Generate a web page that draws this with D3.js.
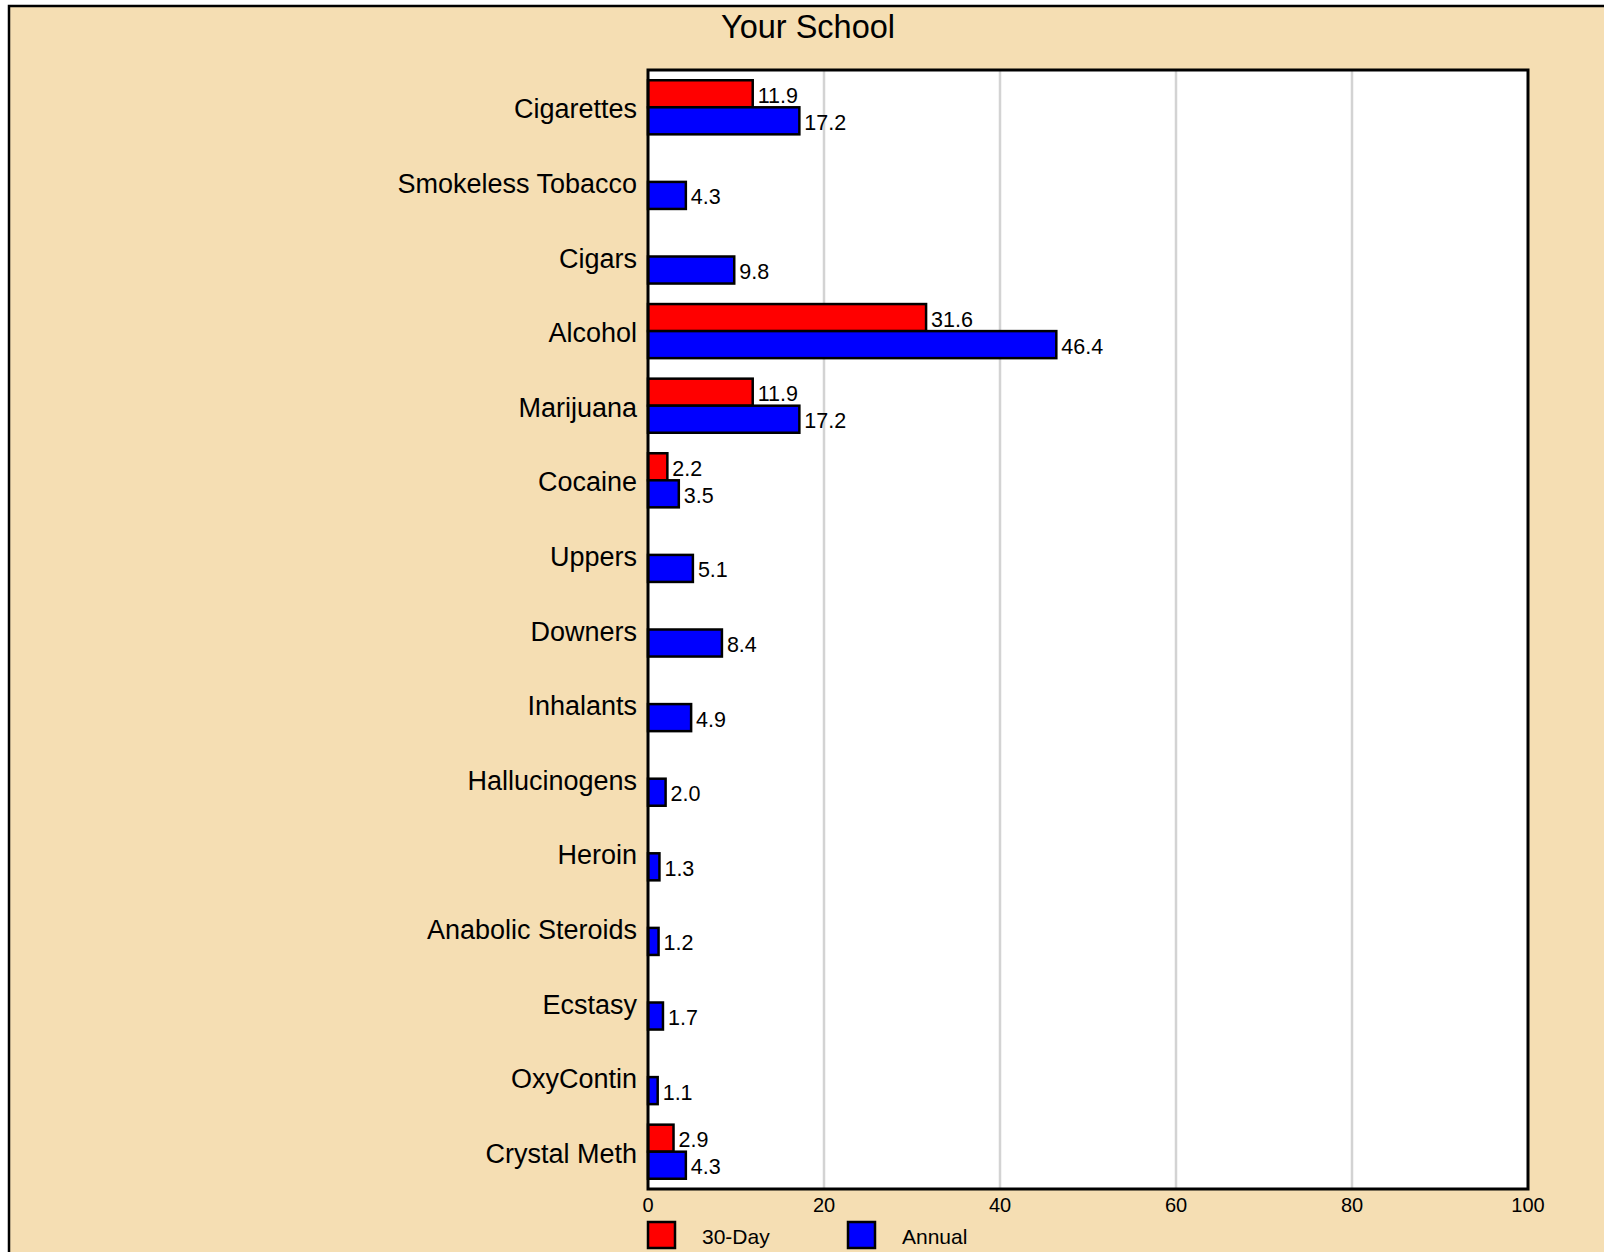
<!DOCTYPE html>
<html>
<head>
<meta charset="utf-8">
<script src="https://cdn.jsdelivr.net/npm/d3@7"></script>
<style>
html,body{margin:0;padding:0;background:#fff;overflow:hidden;}
svg{display:block;}
text{font-family:Arial,Helvetica,sans-serif;fill:#000;}
</style>
</head>
<body>
<svg id="chart" width="1604" height="1252"></svg>
<script>
const title = "Your School";
const categories = ["Cigarettes","Smokeless Tobacco","Cigars","Alcohol","Marijuana","Cocaine","Uppers","Downers","Inhalants","Hallucinogens","Heroin","Anabolic Steroids","Ecstasy","OxyContin","Crystal Meth"];
const seriesNames = ["30-Day","Annual"];
const seriesColors = ["#ff0000","#0000ff"];
const thirtyDay = [11.9,null,null,31.6,11.9,2.2,null,null,null,null,null,null,null,null,2.9];
const annual = [17.2,4.3,9.8,46.4,17.2,3.5,5.1,8.4,4.9,2.0,1.3,1.2,1.7,1.1,4.3];
const xTicks = [0,20,40,60,80,100];

const svg = d3.select("#chart");
const plot = {left:648, right:1528, top:70, bottom:1189};

// outer background
svg.append("rect").attr("x",9).attr("y",6).attr("width",1700).attr("height",1400)
  .attr("fill","#F5DEB3").attr("stroke","#000").attr("stroke-width",2.5);

svg.append("text").attr("x",808).attr("y",38).attr("text-anchor","middle")
  .style("font-size","32.5px").text(title);

const x = d3.scaleLinear().domain([0,100]).range([plot.left,plot.right]);
const y = d3.scaleBand().domain(categories).range([plot.top,plot.bottom])
  .paddingInner(0.275).paddingOuter(0.1375);
const ySub = d3.scaleBand().domain(seriesNames).range([0,y.bandwidth()]);

// plot area
svg.append("rect").attr("x",plot.left).attr("y",plot.top)
  .attr("width",plot.right-plot.left).attr("height",plot.bottom-plot.top).attr("fill","#fff");

// gridlines
svg.append("g").selectAll("line").data(xTicks.filter(t=>t>0 && t<100)).join("line")
  .attr("x1",d=>x(d)).attr("x2",d=>x(d)).attr("y1",plot.top).attr("y2",plot.bottom)
  .attr("stroke","#d3d3d3").attr("stroke-width",2.5);

// bars
const rows = categories.map((c,i)=>({cat:c, vals:[thirtyDay[i],annual[i]]}));
const g = svg.append("g");
rows.forEach(r=>{
  r.vals.forEach((v,si)=>{
    if(v==null) return;
    const yy = y(r.cat)+ySub(seriesNames[si]);
    g.append("rect").attr("x",x(0)).attr("y",yy)
      .attr("width",x(v)-x(0)).attr("height",ySub.bandwidth())
      .attr("fill",seriesColors[si]).attr("stroke","#000").attr("stroke-width",2.5);
    g.append("text").attr("x",x(v)+5).attr("y",yy+ySub.bandwidth()/2+2)
      .attr("dominant-baseline","central").style("font-size","21.5px").text(v.toFixed(1));
  });
});

// plot border
svg.append("rect").attr("x",plot.left).attr("y",plot.top)
  .attr("width",plot.right-plot.left).attr("height",plot.bottom-plot.top)
  .attr("fill","none").attr("stroke","#000").attr("stroke-width",3);

// y labels
svg.append("g").selectAll("text").data(categories).join("text")
  .attr("x",plot.left-11).attr("y",d=>y(d)+y.bandwidth()/2+2)
  .attr("text-anchor","end").attr("dominant-baseline","central")
  .style("font-size","27px").text(d=>d);

// x tick labels
svg.append("g").selectAll("text").data(xTicks).join("text")
  .attr("x",d=>x(d)).attr("y",1205).attr("text-anchor","middle")
  .attr("dominant-baseline","central").style("font-size","20px").text(d=>d);

// legend
const legX = [648,848];
seriesNames.forEach((s,i)=>{
  svg.append("rect").attr("x",legX[i]).attr("y",1222).attr("width",27).attr("height",26)
    .attr("fill",seriesColors[i]).attr("stroke","#000").attr("stroke-width",2.5);
  svg.append("text").attr("x",legX[i]+54).attr("y",1236).attr("dominant-baseline","central")
    .style("font-size","21px").text(s);
});
</script>
</body>
</html>
